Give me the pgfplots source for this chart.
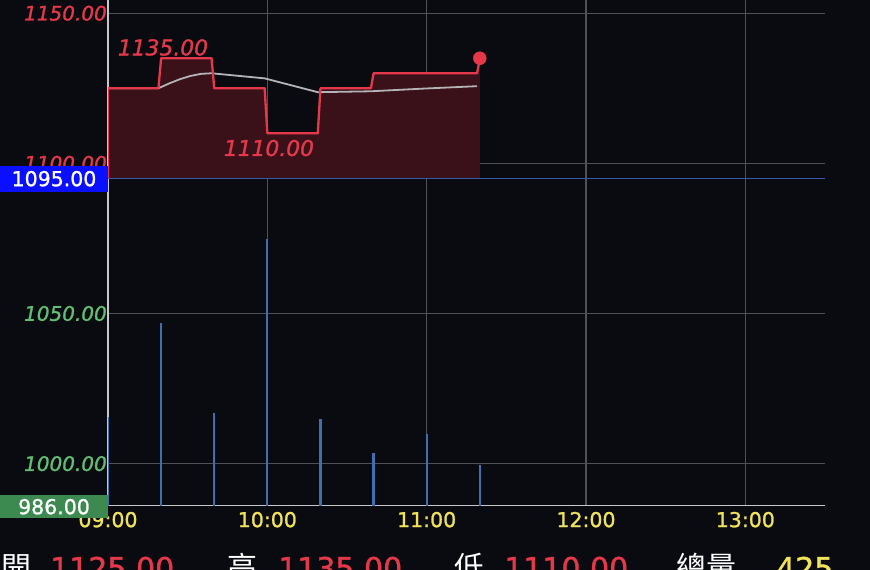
\documentclass[border=0pt]{standalone}
\usepackage{pgfplots}
\pgfplotsset{compat=1.18}
\usepackage{fontspec}
\setmainfont{DejaVu Sans}[FakeBold=1.2]
\newfontfamily\lab{DejaVu Sans}[FakeBold=1.2]
\newfontfamily\labit{DejaVu Sans Oblique}[FakeBold=1.2]
\newfontfamily\cjk{Noto Sans CJK TC}
\definecolor{bg}{HTML}{0A0B10}
\definecolor{pred}{HTML}{E5394B}
\definecolor{fillred}{HTML}{3A1019}
\definecolor{grn}{HTML}{5FBF72}
\definecolor{gridc}{HTML}{505157}
\definecolor{axc}{HTML}{C8C8CC}
\definecolor{volc}{HTML}{3F6FAF}
\definecolor{refl}{HTML}{3558A8}
\definecolor{ylw}{HTML}{F0E35A}
\definecolor{avgc}{HTML}{B4B4B8}
\definecolor{bluebox}{HTML}{0A10FF}
\definecolor{greenbox}{HTML}{3C8A50}
\begin{document}
\begin{tikzpicture}[x=1pt,y=1pt]
\fill[bg] (0,0) rectangle (870,570);
\begin{axis}[
  at={(108pt,64.3pt)}, anchor=south west,
  scale only axis, width=717pt, height=505.7pt,
  xmin=0, xmax=270, ymin=986, ymax=1154.4,
  axis x line*=bottom, axis y line*=left,
  axis line style={draw=axc, line width=1.6pt, -},
  xtick={0,60,120,180,240},
  xticklabels={09:00,10:00,11:00,12:00,13:00},
  ytick={1000,1050,1100,1150},
  yticklabels={\textcolor{grn}{1000.00},\textcolor{grn}{1050.00},\textcolor{pred}{1100.00},\textcolor{pred}{1150.00}},
  major tick length=0pt,
  grid=major,
  major grid style={draw=gridc, line width=1.2pt},
  xticklabel style={font=\lab\fontsize{20.5}{24}\selectfont, text=ylw, inner sep=0pt, yshift=-6pt},
  yticklabel style={font=\labit\fontsize{20}{24}\selectfont, inner sep=1pt, anchor=east},
  clip=true,
]
% area fill
\addplot[fill=fillred, draw=none] coordinates {
 (0,1095) (0,1125) (19,1125) (20,1135) (39,1135) (40,1125) (59,1125) (60,1110)
 (79,1110) (80,1125) (99,1125) (100,1130) (139,1130) (140,1135) (140,1095)};
% volume
\addplot[ycomb, draw=volc, line width=2.2pt, mark=none] coordinates {
 (0,1015.5) (20,1046.8) (40,1017) (60,1074.9) (80,1015) (100,1003.5) (120,1009.8) (140,999.6)};
% reference line
\addplot[draw=refl, line width=1.3pt] coordinates {(0,1095) (270,1095)};
% average line
\addplot[draw=avgc, line width=1.8pt] coordinates {
 (0,1125) (19,1125) (23,1126.6) (27,1128) (31,1129.1) (35,1129.8) (39,1130) (59,1128.3)
 (79,1123.7) (99,1124) (119,1124.9) (139,1125.7)};
% price line
\addplot[draw=pred, line width=2.3pt, line join=round] coordinates {
 (0,1095) (0,1125) (19,1125) (20,1135) (39,1135) (40,1125) (59,1125) (60,1110)
 (79,1110) (80,1125) (99,1125) (100,1130) (139,1130) (140,1135)};
\addplot[only marks, mark=*, mark size=6.5pt, mark options={fill=pred, draw=pred}] coordinates {(140,1135)};
\node[text=pred, font=\labit\fontsize{21.8}{24}\selectfont, inner sep=0pt] at (axis cs:20.7,1138.6) {1135.00};
\node[text=pred, font=\labit\fontsize{21.8}{24}\selectfont, inner sep=0pt] at (axis cs:60.6,1105.1) {1110.00};
\end{axis}
% value boxes
\fill[bluebox] (0,378.3) rectangle (108,404.3);
\node[text=white, font=\lab\fontsize{20.5}{24}\selectfont, inner sep=0pt] at (54,391.3) {1095.00};
\fill[greenbox] (0,51.7) rectangle (108,75);
\node[text=white, font=\lab\fontsize{20.5}{24}\selectfont, inner sep=0pt] at (54,63.3) {986.00};
% bottom summary row
\node[anchor=base west, inner sep=0pt, text=white, font=\cjk\fontsize{30}{34}\selectfont] at (1,-9) {開};
\node[anchor=base west, inner sep=0pt, text=pred, font=\lab\fontsize{30}{34}\selectfont] at (50,-9) {1125.00};
\node[anchor=base west, inner sep=0pt, text=white, font=\cjk\fontsize{30}{34}\selectfont] at (227,-9) {高};
\node[anchor=base west, inner sep=0pt, text=pred, font=\lab\fontsize{30}{34}\selectfont] at (278,-9) {1135.00};
\node[anchor=base west, inner sep=0pt, text=white, font=\cjk\fontsize{30}{34}\selectfont] at (454,-9) {低};
\node[anchor=base west, inner sep=0pt, text=pred, font=\lab\fontsize{30}{34}\selectfont] at (504,-9) {1110.00};
\node[anchor=base west, inner sep=0pt, text=white, font=\cjk\fontsize{30}{34}\selectfont] at (676,-9) {總量};
\node[anchor=base west, inner sep=0pt, text=ylw, font=\lab\fontsize{30}{34}\selectfont] at (776,-9) {425};
\pgfresetboundingbox
\path[use as bounding box] (0,0) rectangle (870,570);
\end{tikzpicture}
\end{document}
